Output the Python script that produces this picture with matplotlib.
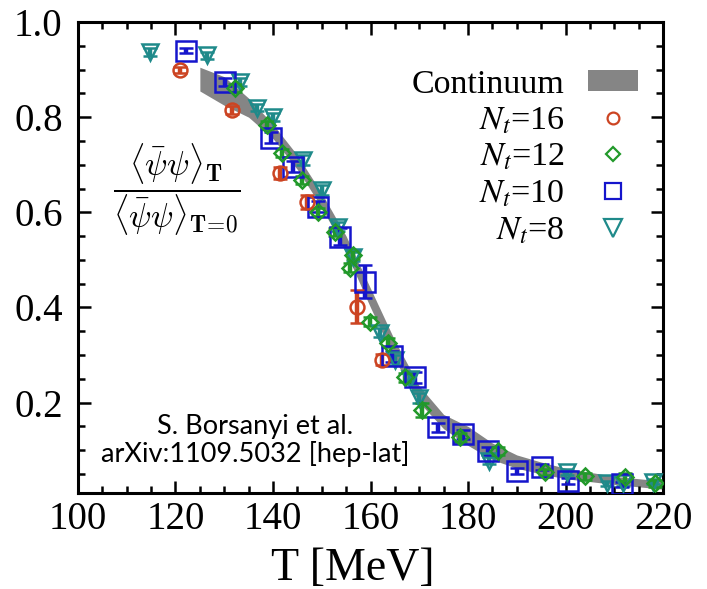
import matplotlib
matplotlib.use('Agg')
import matplotlib.pyplot as plt
from matplotlib.lines import Line2D
from matplotlib.patches import Patch
from matplotlib.font_manager import FontProperties
from matplotlib.ticker import MultipleLocator, FormatStrFormatter
import numpy as np

# continuum band (lower / upper edge)
band_T = [125, 130, 135, 140, 145, 150, 155, 160, 165, 170, 175, 180, 185, 190, 195, 200, 210, 220]
band_lo = [0.855, 0.825, 0.80, 0.755, 0.69, 0.61, 0.515, 0.40, 0.29, 0.20, 0.145, 0.11, 0.08, 0.062, 0.05, 0.04, 0.028, 0.018]
band_hi = [0.905, 0.885, 0.84, 0.785, 0.72, 0.64, 0.55, 0.44, 0.33, 0.235, 0.175, 0.15, 0.115, 0.09, 0.075, 0.062, 0.045, 0.035]

# Nt=16
T16 = [120.9, 131.6, 141.4, 146.9, 157.2, 162.4]
v16 = [0.899, 0.815, 0.683, 0.622, 0.402, 0.290]
e16 = [0.006, 0.008, 0.012, 0.015, 0.035, 0.012]

# Nt=12
T12 = [132.2, 138.7, 141.8, 146.0, 149.3, 152.7, 155.8, 156.4, 159.9, 163.6, 167.0, 170.6, 178.4, 186.2, 195.8, 204.0, 212.2, 218.4]
v12 = [0.861, 0.784, 0.725, 0.668, 0.601, 0.559, 0.484, 0.511, 0.370, 0.326, 0.253, 0.185, 0.127, 0.098, 0.054, 0.045, 0.043, 0.030]
e12 = [0.008, 0.008, 0.008, 0.008, 0.008, 0.008, 0.010, 0.010, 0.010, 0.010, 0.010, 0.015, 0.010, 0.008, 0.006, 0.008, 0.008, 0.008]

# Nt=10
T10 = [122.2, 130.2, 139.6, 144.1, 149.2, 153.7, 158.9, 164.4, 169.1, 173.8, 179.0, 184.1, 190.0, 195.2, 200.5, 211.6]
v10 = [0.940, 0.874, 0.757, 0.696, 0.612, 0.549, 0.454, 0.297, 0.253, 0.148, 0.133, 0.098, 0.056, 0.064, 0.035, 0.028]
e10 = [0.006, 0.008, 0.012, 0.012, 0.012, 0.018, 0.035, 0.012, 0.012, 0.010, 0.010, 0.008, 0.006, 0.006, 0.006, 0.006]

# Nt=8
T8 = [114.8, 126.5, 133.2, 136.7, 140.0, 146.2, 150.0, 153.3, 156.4, 162.0, 165.0, 168.0, 170.0, 184.3, 200.3, 208.5, 211.8, 218.0]
v8 = [0.937, 0.930, 0.874, 0.820, 0.800, 0.710, 0.647, 0.570, 0.507, 0.347, 0.290, 0.250, 0.210, 0.078, 0.054, 0.030, 0.030, 0.034]
e8 = [0.008, 0.008, 0.008, 0.008, 0.008, 0.010, 0.010, 0.010, 0.010, 0.010, 0.010, 0.010, 0.010, 0.008, 0.006, 0.006, 0.006, 0.006]

red = '#cc4422'
green = '#22992a'
blue = '#1515cc'
teal = '#1f8a8a'
band_col = '#858585'

plt.rcParams['font.family'] = 'Liberation Serif'
plt.rcParams['mathtext.fontset'] = 'cm'

fig = plt.figure(figsize=(7.07, 5.89), dpi=100)
ax = fig.add_axes([0.1103, 0.163, 0.8275, 0.7996])

ax.fill_between(band_T, band_lo, band_hi, color=band_col, lw=0, zorder=1)

series = [
    (T8, v8, e8, 'v', 12, teal),
    (T10, v10, e10, 's', 14, blue),
    (T12, v12, e12, 'D', 8, green),
    (T16, v16, e16, 'o', 10, red),
]
for T, v, e, m, ms, c in series:
    ax.errorbar(T, v, yerr=e, fmt=m, ms=ms, mfc='none', mec=c, mew=1.8,
                ecolor=c, elinewidth=3.2, capsize=5, capthick=3.2, zorder=3)

ax.set_xlim(100, 220)
ax.set_ylim(0.01, 1.0)
ax.xaxis.set_major_locator(MultipleLocator(20))
ax.xaxis.set_minor_locator(MultipleLocator(5))
ax.yaxis.set_major_locator(MultipleLocator(0.2))
ax.yaxis.set_minor_locator(MultipleLocator(0.05))
ax.yaxis.set_major_formatter(FormatStrFormatter('%.1f'))
ax.tick_params(which='both', direction='in', top=True, right=True, width=1.8)
ax.tick_params(which='major', length=9, labelsize=28)
ax.tick_params(axis='x', which='major', pad=6)
ax.tick_params(axis='y', which='major', pad=11)
ax.tick_params(which='minor', length=5)
for s in ax.spines.values():
    s.set_linewidth(2.2)

ax.set_xlabel('T [MeV]', fontsize=33, labelpad=5)
ax.xaxis.set_label_coords(0.47, -0.115)

ax.text(120.3, 0.647,
        r'$\dfrac{\langle\bar{\psi}\psi\rangle_{\mathbf{T}}}{\langle\bar{\psi}\psi\rangle_{\mathbf{T}\!=\!\mathbf{0}}}$',
        fontsize=24, ha='center', va='center')

ax.text(136.3, 0.12, 'S. Borsanyi et al.\narXiv:1109.5032 [hep-lat]',
        family='Lato', fontsize=19.5, ha='center', va='center', linespacing=1.1)

handles = [
    Patch(facecolor=band_col, edgecolor='none'),
    Line2D([], [], ls='none', marker='o', ms=8.5, mfc='none', mec=red, mew=1.6),
    Line2D([], [], ls='none', marker='D', ms=7.5, mfc='none', mec=green, mew=1.6),
    Line2D([], [], ls='none', marker='s', ms=12, mfc='none', mec=blue, mew=1.6),
    Line2D([], [], ls='none', marker='v', ms=12.5, mfc='none', mec=teal, mew=1.6),
]
labels = ['Continuum', r'$N_t$=16', r'$N_t$=12', r'$N_t$=10', r'$N_t$=8']
leg = ax.legend(handles, labels, loc='upper right', bbox_to_anchor=(0.957, 0.90),
                frameon=False, markerfirst=False, handlelength=1.47, handleheight=0.6,
                labelspacing=0.18, handletextpad=0.68, borderpad=0, borderaxespad=0,
                prop=FontProperties(family='Liberation Serif', size=24.5, math_fontfamily='stix'))
for t in leg.get_texts():
    t.set_ha('right')

fig.savefig('out.png', dpi=100)
